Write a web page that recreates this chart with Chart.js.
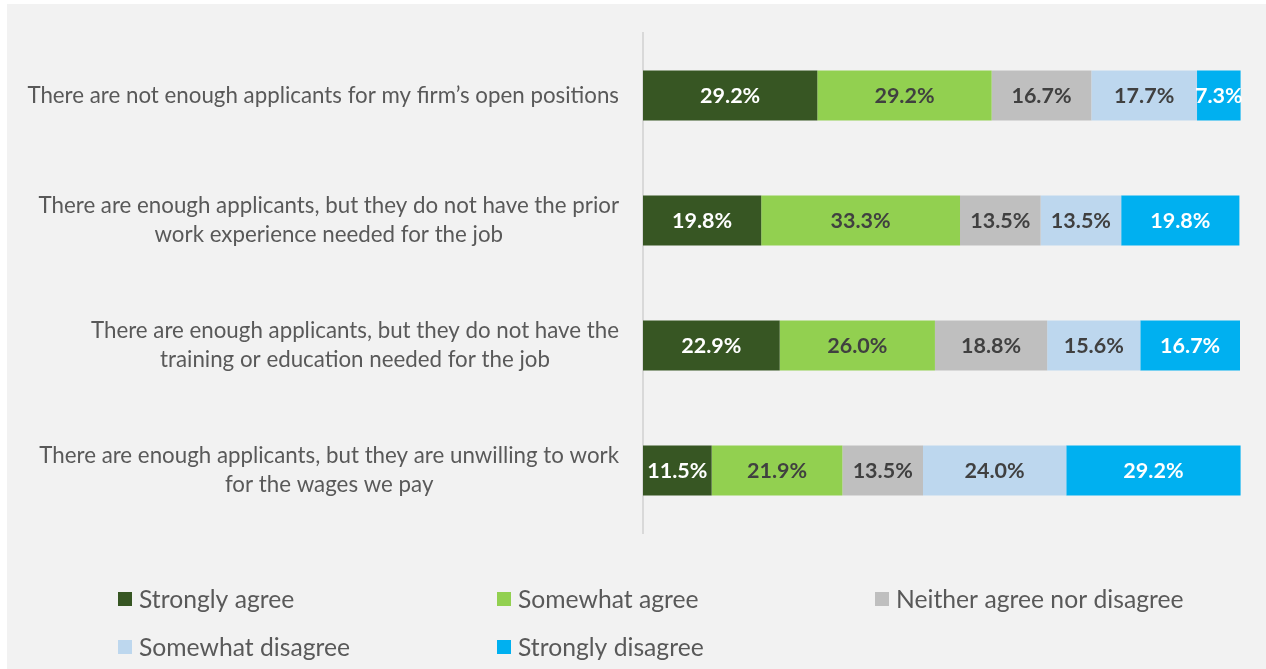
<!DOCTYPE html>
<html>
<head>
<meta charset="utf-8">
<script src="https://cdn.jsdelivr.net/npm/chart.js@4.4.1/dist/chart.umd.min.js"></script>
<style>
  html, body { margin: 0; padding: 0; background: #ffffff; }
  #wrap { position: relative; width: 1266px; height: 669px; }
</style>
</head>
<body>
<div id="wrap"><canvas id="chart" width="1266" height="669"></canvas></div>
<script>
// Survey statements (each entry is a list of lines)
const statements = [
  ["There are not enough applicants for my firm\u2019s open positions"],
  ["There are enough applicants, but they do not have the prior", "work experience needed for the job"],
  ["There are enough applicants, but they do not have the", "training or education needed for the job"],
  ["There are enough applicants, but they are unwilling to work", "for the wages we pay"]
];

const responseLabels = ["Strongly agree", "Somewhat agree", "Neither agree nor disagree", "Somewhat disagree", "Strongly disagree"];

// Share of respondents (%) per statement
const stronglyAgree     = [29.2, 19.8, 22.9, 11.5];
const somewhatAgree     = [29.2, 33.3, 26.0, 21.9];
const neitherAgree      = [16.7, 13.5, 18.8, 13.5];
const somewhatDisagree  = [17.7, 13.5, 15.6, 24.0];
const stronglyDisagree  = [7.3, 19.8, 16.7, 29.2];

const fillColors  = ["#375623", "#92d050", "#bfbfbf", "#bdd7ee", "#00b0f0"];
const valueColors = ["#ffffff", "#404040", "#404040", "#404040", "#ffffff"];

const FONT = "Lato, 'Open Sans', sans-serif";

const seriesValues = [stronglyAgree, somewhatAgree, neitherAgree, somewhatDisagree, stronglyDisagree];

const datasets = seriesValues.map((vals, i) => ({
  label: responseLabels[i],
  data: vals,
  backgroundColor: fillColors[i],
  borderWidth: 0,
  barPercentage: 0.4,
  categoryPercentage: 1.0,
  clip: false
}));

// Light gray panel behind everything
const panelPlugin = {
  id: 'panel',
  beforeDraw(chart) {
    const ctx = chart.ctx;
    ctx.save();
    ctx.fillStyle = '#f2f2f2';
    ctx.fillRect(7, 4, chart.width - 7, chart.height - 4);
    ctx.restore();
  }
};

// Percent labels centred inside every bar segment
const valueLabelPlugin = {
  id: 'valueLabels',
  afterDatasetsDraw(chart) {
    const ctx = chart.ctx;
    ctx.save();
    ctx.font = "bold 21.5px " + FONT;
    ctx.textAlign = 'center';
    ctx.textBaseline = 'middle';
    chart.data.datasets.forEach((ds, di) => {
      const meta = chart.getDatasetMeta(di);
      meta.data.forEach((bar, i) => {
        const v = ds.data[i];
        const cx = (bar.x + bar.base) / 2;
        ctx.fillStyle = valueColors[di];
        ctx.fillText(v.toFixed(1) + '%', cx, bar.y + 1);
      });
    });
    ctx.restore();
  }
};

// Category text: block right-aligned to the axis, lines centred within the block
const categoryLabelPlugin = {
  id: 'categoryLabels',
  afterDraw(chart) {
    const ctx = chart.ctx;
    const yScale = chart.scales.y;
    const rightEdge = chart.chartArea.left - 24;
    const lineH = 29;
    ctx.save();
    ctx.font = "22.3px " + FONT;
    ctx.fillStyle = '#595959';
    ctx.textAlign = 'center';
    ctx.textBaseline = 'middle';
    statements.forEach((lines, i) => {
      const cy = yScale.getPixelForValue(i);
      const w = Math.max(...lines.map(l => ctx.measureText(l).width));
      const cx = rightEdge - w / 2;
      const y0 = cy - (lines.length - 1) * lineH / 2;
      lines.forEach((l, k) => ctx.fillText(l, cx, y0 + k * lineH));
    });
    ctx.restore();
  }
};

// Legend laid out as a three-column grid under the plot
const gridLegendPlugin = {
  id: 'gridLegend',
  afterDraw(chart) {
    const ctx = chart.ctx;
    const cols = [118, 497, 875];
    const rows = [599, 647];
    const box = 14;
    ctx.save();
    ctx.font = "24.7px " + FONT;
    ctx.textBaseline = 'middle';
    ctx.textAlign = 'left';
    chart.data.datasets.forEach((ds, i) => {
      const x = cols[i % 3];
      const y = rows[Math.floor(i / 3)];
      ctx.fillStyle = ds.backgroundColor;
      ctx.fillRect(x, y - box / 2, box, box);
      ctx.fillStyle = '#595959';
      ctx.fillText(ds.label, x + box + 7, y + 1);
    });
    ctx.restore();
  }
};

new Chart(document.getElementById('chart'), {
  type: 'bar',
  data: { labels: statements.map(s => s.join(' ')), datasets },
  options: {
    indexAxis: 'y',
    responsive: false,
    animation: false,
    layout: { padding: { left: 0, top: 33, right: 26, bottom: 136 } },
    plugins: {
      legend: { display: false },
      tooltip: { enabled: false }
    },
    scales: {
      x: {
        stacked: true,
        min: 0,
        max: 100,
        display: false
      },
      y: {
        stacked: true,
        ticks: { display: false },
        grid: { display: false },
        border: { display: true, color: '#d9d9d9', width: 2 },
        afterFit(scale) { scale.width = 643; }
      }
    }
  },
  plugins: [panelPlugin, valueLabelPlugin, categoryLabelPlugin, gridLegendPlugin]
});
</script>
</body>
</html>
